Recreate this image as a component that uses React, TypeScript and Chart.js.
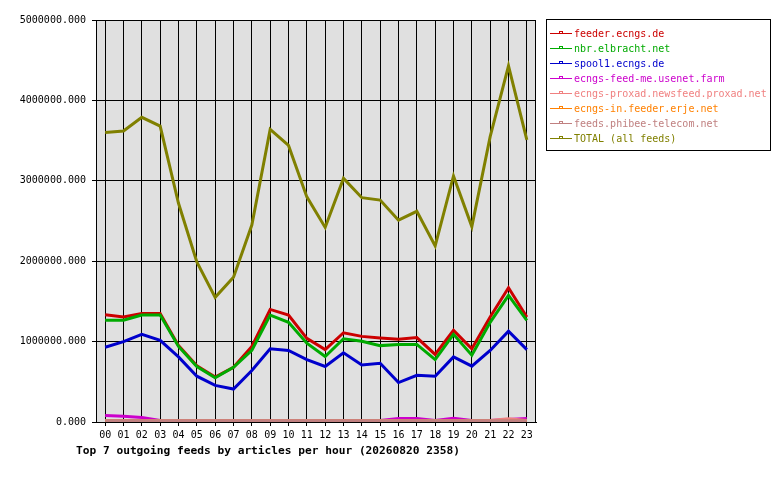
import { useEffect, useRef } from 'react';
import { Chart, registerables } from 'chart.js';

// hours of the day (x axis)
const hours = [
  '00', '01', '02', '03', '04', '05', '06', '07', '08', '09', '10', '11',
  '12', '13', '14', '15', '16', '17', '18', '19', '20', '21', '22', '23',
];

// articles per hour, per feed
const feederEcngs = [
  1335000, 1305000, 1350000, 1350000, 950000, 700000, 560000, 680000, 940000, 1400000, 1330000, 1040000,
  900000, 1110000, 1065000, 1045000, 1030000, 1050000, 840000, 1140000, 910000, 1305000, 1670000, 1305000,
];
const nbrElbracht = [
  1265000, 1265000, 1330000, 1330000, 940000, 690000, 550000, 680000, 890000, 1330000, 1240000, 980000,
  815000, 1035000, 1005000, 950000, 965000, 965000, 775000, 1090000, 830000, 1240000, 1575000, 1265000,
];
const spool1Ecngs = [
  930000, 1000000, 1090000, 1015000, 810000, 570000, 455000, 410000, 640000, 910000, 890000, 775000,
  690000, 860000, 710000, 730000, 490000, 580000, 570000, 810000, 695000, 890000, 1130000, 900000,
];
const feedMeUsenet = [
  80000, 70000, 55000, 18000, 18000, 18000, 18000, 18000, 18000, 18000, 18000, 18000,
  18000, 18000, 18000, 18000, 45000, 45000, 18000, 45000, 18000, 18000, 30000, 45000,
];
const proxadNewsfeed = [
  20000, 20000, 20000, 20000, 20000, 20000, 20000, 20000, 20000, 20000, 20000, 20000,
  20000, 20000, 20000, 20000, 20000, 20000, 20000, 20000, 20000, 20000, 40000, 20000,
];
const erjeFeeder = [
  10000, 10000, 10000, 10000, 10000, 10000, 10000, 10000, 10000, 10000, 10000, 10000,
  10000, 10000, 10000, 10000, 10000, 10000, 10000, 10000, 10000, 10000, 10000, 10000,
];
const phibeeTelecom = [
  15000, 15000, 15000, 15000, 15000, 15000, 15000, 15000, 15000, 15000, 15000, 15000,
  15000, 15000, 15000, 15000, 15000, 15000, 15000, 15000, 15000, 15000, 15000, 15000,
];
const totalAllFeeds = [
  3600000, 3620000, 3790000, 3680000, 2720000, 1990000, 1550000, 1800000, 2450000, 3640000, 3440000, 2800000,
  2420000, 3030000, 2790000, 2760000, 2510000, 2620000, 2190000, 3060000, 2430000, 3550000, 4430000, 3510000,
];

const feedNames = [
  'feeder.ecngs.de',
  'nbr.elbracht.net',
  'spool1.ecngs.de',
  'ecngs-feed-me.usenet.farm',
  'ecngs-proxad.newsfeed.proxad.net',
  'ecngs-in.feeder.erje.net',
  'feeds.phibee-telecom.net',
  'TOTAL (all feeds)',
];
const feedColors = ['#cc0000', '#00aa00', '#0000cc', '#cc00cc', '#f08080', '#ff8000', '#c08080', '#808000'];
const feedValues = [
  feederEcngs, nbrElbracht, spool1Ecngs, feedMeUsenet,
  proxadNewsfeed, erjeFeeder, phibeeTelecom, totalAllFeeds,
];

const yTicks = [0, 1000000, 2000000, 3000000, 4000000, 5000000];

const MONO = '"DejaVu Sans Mono", "Liberation Mono", monospace';

// grey plot background + frame
const plotFrame = {
  id: 'plotFrame',
  beforeDraw(chart: Chart) {
    const { ctx, chartArea } = chart;
    ctx.save();
    ctx.fillStyle = '#e0e0e0';
    ctx.fillRect(chartArea.left, chartArea.top, chartArea.right - chartArea.left, chartArea.bottom - chartArea.top);
    ctx.restore();
  },
  beforeDatasetsDraw(chart: Chart) {
    const { ctx, chartArea } = chart;
    ctx.save();
    ctx.strokeStyle = '#000';
    ctx.lineWidth = 1;
    ctx.strokeRect(chartArea.left + 0.5, chartArea.top + 0.5, chartArea.right - chartArea.left - 1, chartArea.bottom - chartArea.top);
    ctx.restore();
  },
};

export default function App() {
  const chartRef = useRef<HTMLCanvasElement>(null);

  useEffect(() => {
    if (!chartRef.current) return;
    Chart.register(...registerables);

    const chart = new Chart(chartRef.current, {
      type: 'line',
      data: {
        labels: hours,
        datasets: feedValues.map((values, i) => ({
          label: feedNames[i],
          data: values,
          borderColor: feedColors[i],
          backgroundColor: feedColors[i],
          borderWidth: 3,
          pointRadius: 0,
          tension: 0,
          fill: false,
          // later feeds drawn on top
          order: feedValues.length - i,
        })),
      },
      options: {
        responsive: false,
        animation: false,
        layout: { padding: { left: 0, right: 244, top: 20, bottom: 0 } },
        plugins: {
          legend: { display: false },
          tooltip: { enabled: false },
        },
        scales: {
          x: {
            type: 'category',
            offset: true,
            grid: { offset: false, color: '#000', lineWidth: 1, tickLength: 4 },
            border: { color: '#000', width: 1 },
            ticks: {
              color: '#000',
              padding: 3,
              maxRotation: 0,
              autoSkip: false,
              font: { family: MONO, size: 10 },
            },
            afterFit(scale) {
              scale.height = 58;
            },
          },
          y: {
            min: 0,
            max: 5000000,
            grid: { color: '#000', lineWidth: 1, tickLength: 4 },
            border: { color: '#000', width: 1 },
            afterBuildTicks(scale) {
              scale.ticks = yTicks.map(v => ({ value: v }));
            },
            ticks: {
              color: '#000',
              padding: 6,
              font: { family: MONO, size: 10 },
              callback: (value) => Number(value).toFixed(3),
            },
            afterFit(scale) {
              scale.width = 96;
            },
          },
        },
      },
      plugins: [plotFrame],
    });

    return () => {
      chart.destroy();
    };
  }, []);

  return (
    <div style={{ position: 'fixed', left: 0, top: 0, width: 780, height: 480, background: '#fff' }}>
      <canvas ref={chartRef} width={780} height={480} style={{ position: 'absolute', left: 0, top: 0 }} />
      <div
        style={{
          position: 'absolute',
          left: 546,
          top: 19,
          width: 223,
          height: 130,
          border: '1px solid #000',
          fontFamily: MONO,
          fontSize: 10,
        }}
      >
        {feedNames.map((name, i) => (
          <div
            key={name}
            style={{ position: 'absolute', left: 3, top: 6 + i * 15, height: 15, display: 'flex', alignItems: 'center', color: feedColors[i], whiteSpace: 'nowrap' }}
          >
            <span style={{ position: 'relative', display: 'inline-block', width: 22, height: 15, marginRight: 2 }}>
              <span style={{ position: 'absolute', left: 0, top: 7, width: 22, height: 1, background: feedColors[i] }} />
              <span style={{ position: 'absolute', left: 9, top: 5, width: 2, height: 1, border: `1px solid ${feedColors[i]}` }} />
            </span>
            <span>{name}</span>
          </div>
        ))}
      </div>
      <div
        style={{
          position: 'absolute',
          left: 76,
          top: 445,
          fontFamily: MONO,
          fontSize: 11.2,
          fontWeight: 'bold',
          lineHeight: '12px',
          whiteSpace: 'nowrap',
          color: '#000',
        }}
      >
        Top 7 outgoing feeds by articles per hour (20260820 2358)
      </div>
    </div>
  );
}
